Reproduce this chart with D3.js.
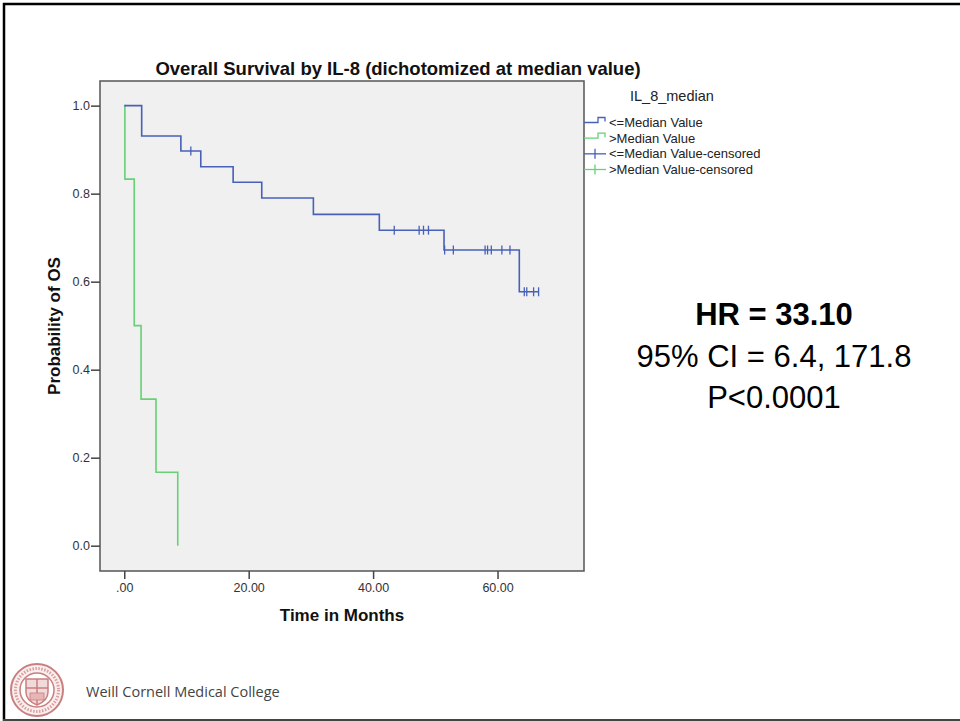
<!DOCTYPE html>
<html>
<head>
  <meta charset="UTF-8">
  <title>Overall Survival by IL-8</title>
  <style>
    body { margin: 0; background: #fff; }
    svg { display: block; font-family: "Liberation Sans", Arial, sans-serif; }
  </style>
  <script src="https://d3js.org/d3.v7.min.js"></script>
</head>
<body>
<svg id="chart" width="960" height="721"></svg>
<script>

// Kaplan-Meier steps (event time, survival after it)
var lowTimes = [0, 2.8, 9.1, 12.3, 17.5, 22.1, 30.4, 41.0, 51.4, 63.5];
var lowSurv  = [1.0, 0.931, 0.897, 0.861, 0.826, 0.790, 0.753, 0.717, 0.672, 0.577];
var lowEnd = 66.6;
var lowCensored = [10.7, 43.4, 47.4, 48.1, 48.9, 51.5, 52.9, 58.0, 58.4, 59.0, 60.7, 62.0, 64.3, 64.7, 65.8, 66.6];

var highTimes = [0, 0.1, 1.6, 2.7, 5.1, 8.6];
var highSurv  = [1.0, 0.833, 0.5, 0.333, 0.167, 0];

var xTicks = [0, 20, 40, 60];
var yTicks = [0, 0.2, 0.4, 0.6, 0.8, 1.0];

var legendLabels = ["<=Median Value", ">Median Value", "<=Median Value-censored", ">Median Value-censored"];
var statLines = ["HR = 33.10", "95% CI = 6.4, 171.8", "P<0.0001"];

var blue = "#4760b8", green = "#66d175";

var svg = d3.select("#chart");

// slide frame
svg.append("line").attr("x1", 3).attr("x2", 960).attr("y1", 4).attr("y2", 4)
  .attr("stroke", "#000").attr("stroke-width", 2.5);
svg.append("line").attr("x1", 4).attr("x2", 4).attr("y1", 3).attr("y2", 721)
  .attr("stroke", "#000").attr("stroke-width", 2.5);
svg.append("line").attr("x1", 3).attr("x2", 960).attr("y1", 720).attr("y2", 720)
  .attr("stroke", "#444").attr("stroke-width", 2);

// plot area
var plotL = 100, plotR = 584, plotT = 81, plotB = 571;
var x = d3.scaleLinear().domain([-3.9, 73.9]).range([plotL, plotR]);
var y = d3.scaleLinear().domain([-0.0575, 1.056]).range([plotB, plotT]);

svg.append("rect")
  .attr("x", plotL).attr("y", plotT)
  .attr("width", plotR - plotL).attr("height", plotB - plotT)
  .attr("fill", "#f0f0f0")
  .attr("stroke", "#555").attr("stroke-width", 1.5);

// axes
var xAxis = svg.append("g")
  .attr("transform", "translate(0," + plotB + ")")
  .call(d3.axisBottom(x).tickValues(xTicks).tickSize(8).tickPadding(4)
    .tickFormat(function(d) { return d === 0 ? ".00" : d.toFixed(2); }));
var yAxis = svg.append("g")
  .attr("transform", "translate(" + plotL + ",0)")
  .call(d3.axisLeft(y).tickValues(yTicks).tickSize(9).tickPadding(1)
    .tickFormat(d3.format(".1f")));
[xAxis, yAxis].forEach(function(g) {
  g.select(".domain").remove();
  g.selectAll("line").attr("stroke", "#444").attr("stroke-width", 1.5);
  g.selectAll("text").attr("fill", "#333")
    .style("font-family", "'Liberation Sans', Arial, sans-serif")
    .style("font-size", "12.5px");
});

// titles
svg.append("text").attr("x", 398).attr("y", 75).attr("text-anchor", "middle")
  .style("font-weight", "bold").style("font-size", "18.5px").attr("fill", "#111")
  .text("Overall Survival by IL-8 (dichotomized at median value)");
svg.append("text").attr("x", (plotL + plotR) / 2).attr("y", 621).attr("text-anchor", "middle")
  .style("font-weight", "bold").style("font-size", "17px").attr("fill", "#111")
  .text("Time in Months");
svg.append("text").attr("transform", "translate(60," + (plotT + plotB) / 2 + ") rotate(-90)")
  .attr("text-anchor", "middle")
  .style("font-weight", "bold").style("font-size", "17px").attr("fill", "#111")
  .text("Probability of OS");

// survival curves
var line = d3.line()
  .x(function(d) { return x(d[0]); })
  .y(function(d) { return y(d[1]); })
  .curve(d3.curveStepAfter);

var lowPts = lowTimes.map(function(t, i) { return [t, lowSurv[i]]; });
lowPts.push([lowEnd, lowSurv[lowSurv.length - 1]]);
var highPts = highTimes.map(function(t, i) { return [t, highSurv[i]]; });

function survAt(t) {
  var s = lowSurv[0];
  lowTimes.forEach(function(tt, i) { if (tt <= t) s = lowSurv[i]; });
  return s;
}

var curves = svg.append("g");
curves.append("path").attr("d", line(highPts))
  .attr("fill", "none").attr("stroke", green).attr("stroke-width", 1.6);
curves.append("path").attr("d", line(lowPts))
  .attr("fill", "none").attr("stroke", blue).attr("stroke-width", 1.6);

curves.selectAll("line.censor")
  .data(lowCensored)
  .enter().append("line")
  .attr("class", "censor")
  .attr("x1", function(d) { return x(d); })
  .attr("x2", function(d) { return x(d); })
  .attr("y1", function(d) { return y(survAt(d)) - 4.5; })
  .attr("y2", function(d) { return y(survAt(d)) + 4.5; })
  .attr("stroke", blue).attr("stroke-width", 1.3);

// legend
var legend = svg.append("g").attr("transform", "translate(584,0)");
legend.append("text").attr("x", 46).attr("y", 101)
  .style("font-size", "14.5px").attr("fill", "#222").text("IL_8_median");

var rowY = d3.scaleLinear().domain([0, 3]).range([122.5, 169.5]);
var legendColors = [blue, green, blue, green];

legend.selectAll("g.entry")
  .data(legendLabels)
  .enter().append("g")
  .attr("class", "entry")
  .each(function(label, i) {
    var g = d3.select(this), cy = rowY(i), c = legendColors[i];
    if (i < 2) {
      g.append("path")
        .attr("d", "M0," + cy + "H14V" + (cy - 5) + "H21V" + (cy - 1))
        .attr("fill", "none").attr("stroke", c).attr("stroke-width", 1.3);
    } else {
      g.append("line").attr("x1", 0).attr("x2", 22).attr("y1", cy).attr("y2", cy)
        .attr("stroke", c).attr("stroke-width", 1.3);
      g.append("line").attr("x1", 11).attr("x2", 11).attr("y1", cy - 5).attr("y2", cy + 5)
        .attr("stroke", c).attr("stroke-width", 1.3);
    }
    g.append("text").attr("x", 25).attr("y", cy + 4.5)
      .style("font-size", "13px").attr("fill", "#222").text(label);
  });

// hazard ratio block
svg.append("g").selectAll("text")
  .data(statLines)
  .enter().append("text")
  .attr("x", 774)
  .attr("y", function(d, i) { return 325 + i * 41.5; })
  .attr("text-anchor", "middle")
  .style("font-size", "31px")
  .style("font-weight", function(d, i) { return i === 0 ? "bold" : "normal"; })
  .attr("fill", "#000")
  .text(function(d) { return d; });

// college seal + name
var seal = svg.append("g").attr("transform", "translate(37,690)");
var sealColor = "#c97f7f";
seal.append("circle").attr("r", 26).attr("fill", "#fbeeee").attr("stroke", sealColor).attr("stroke-width", 2);
seal.append("circle").attr("r", 17).attr("fill", "#fff").attr("stroke", sealColor).attr("stroke-width", 1.5);
seal.append("circle").attr("r", 21.5).attr("fill", "none").attr("stroke", sealColor)
  .attr("stroke-width", 3).attr("stroke-dasharray", "1.5,1.5").attr("opacity", 0.7);
seal.append("path")
  .attr("d", "M-11,-11H11V2C11,9 5,13 0,15C-5,13 -11,9 -11,2Z")
  .attr("fill", "#f3dada").attr("stroke", sealColor).attr("stroke-width", 1.5);
seal.append("path").attr("d", "M-11,-2H11M0,-11V15")
  .attr("stroke", sealColor).attr("stroke-width", 1.5);
seal.append("rect").attr("x", -7).attr("y", 3).attr("width", 14).attr("height", 7)
  .attr("fill", "#e7b5b5").attr("stroke", sealColor).attr("stroke-width", 0.8);

svg.append("text").attr("x", 86).attr("y", 697)
  .style("font-family", "'Open Sans', 'Noto Sans', sans-serif")
  .style("font-size", "14.5px").attr("fill", "#444")
  .text("Weill Cornell Medical College");

</script>
</body>
</html>
